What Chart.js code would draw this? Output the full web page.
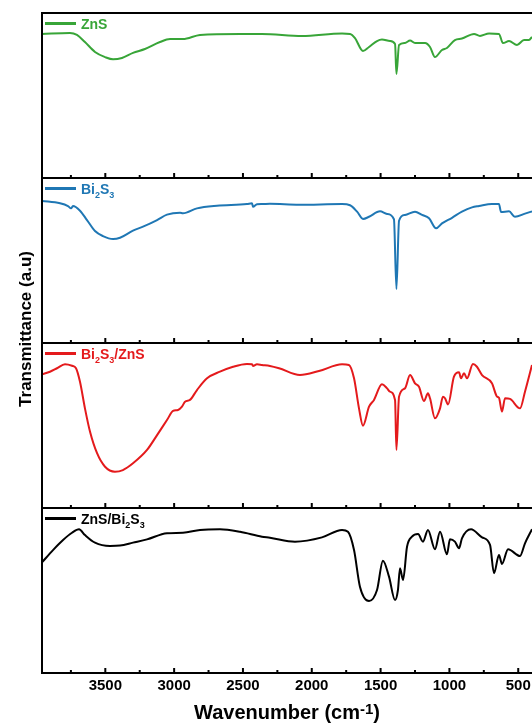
<!DOCTYPE html>
<html lang="en">
<head>
<meta charset="UTF-8">
<title>FTIR spectra</title>
<script src="https://cdn.jsdelivr.net/npm/chart.js"></script>
<style>
  html, body { margin: 0; padding: 0; background: #fff; }
  #wrap { width: 532px; height: 724px; }
</style>
</head>
<body>
<div id="wrap"><canvas id="ftir" width="532" height="724"></canvas></div>
<script>
// wavenumber (cm-1) and transmittance (a.u., 0-100 inside each panel)
const wnZnS = [3960, 3757, 3706, 3648, 3575, 3502, 3444, 3379, 3299, 3212, 3103, 3030, 2936, 2812, 2521, 2362,
  2071, 1780, 1722, 1686, 1628, 1584, 1526, 1490, 1432, 1395, 1385, 1366, 1323, 1286, 1250, 1177, 1141, 1105,
  1054, 1018, 960, 909, 821, 778, 712, 640, 611, 567, 509, 458, 422, 400];
const tZnS = [87.3, 87.9, 86.7, 82.4, 76.4, 73.3, 71.9, 72.7, 75.8, 78.2, 82.4, 84.2, 84.2, 86.7, 87.3, 87.3,
  86.1, 87.6, 87.3, 84.8, 77.0, 79.4, 83.0, 83.9, 83.0, 81.2, 63.0, 80.6, 81.8, 83.3, 81.8, 81.8, 79.4, 73.3,
  77.6, 78.8, 83.6, 84.5, 87.3, 86.1, 87.6, 87.3, 81.8, 83.0, 80.6, 83.6, 83.6, 85.5];

const wnBi2S3 = [3960, 3829, 3771, 3749, 3735, 3684, 3633, 3575, 3517, 3444, 3393, 3299, 3226, 3124, 3052, 2957,
  2936, 2834, 2689, 2471, 2434, 2427, 2398, 2362, 2304, 2093, 1780, 1722, 1671, 1628, 1584, 1504, 1453, 1403,
  1385, 1366, 1323, 1250, 1199, 1148, 1097, 1054, 981, 909, 836, 785, 691, 640, 625, 567, 524, 451, 400];
const tBi2S3 = [86.1, 84.7, 83.0, 81.6, 83.0, 80.2, 74.5, 67.9, 64.8, 63.0, 63.8, 68.1, 70.5, 74.5, 77.8, 79.0,
  78.6, 81.6, 83.2, 84.2, 84.7, 82.6, 84.1, 84.2, 84.4, 83.8, 84.2, 83.5, 79.6, 75.2, 76.5, 79.8, 78.2, 75.0,
  32.7, 74.1, 77.6, 79.6, 77.6, 75.6, 69.5, 72.5, 75.9, 79.6, 82.2, 83.0, 84.2, 84.2, 79.4, 79.8, 76.5, 78.4, 79.8];

const wnBi2S3ZnS = [3960, 3902, 3851, 3793, 3742, 3713, 3684, 3648, 3611, 3560, 3502, 3430, 3372, 3299, 3197, 3124,
  3052, 3008, 2972, 2943, 2921, 2885, 2834, 2761, 2667, 2572, 2471, 2434, 2427, 2398, 2362, 2304, 2238, 2086,
  1948, 1780, 1730, 1693, 1657, 1628, 1584, 1548, 1490, 1453, 1432, 1395, 1385, 1366, 1323, 1286, 1250, 1221,
  1185, 1156, 1141, 1105, 1068, 1047, 1032, 1010, 967, 930, 916, 894, 872, 829, 800, 763, 691, 654, 640, 618,
  596, 560, 487, 451, 400];
const tBi2S3ZnS = [81.0, 82.6, 84.7, 87.1, 86.2, 84.7, 76.5, 60.4, 46.2, 33.2, 25.0, 22.0, 23.0, 27.1, 35.2, 44.2,
  53.3, 58.8, 59.4, 61.4, 64.4, 65.5, 71.5, 78.6, 82.6, 85.6, 87.3, 87.1, 86.1, 87.1, 86.7, 86.1, 84.7, 80.6,
  83.0, 87.1, 86.7, 78.6, 60.4, 49.9, 61.4, 65.5, 75.0, 72.5, 70.5, 65.5, 35.2, 67.5, 72.5, 80.6, 75.6, 73.5,
  64.8, 69.5, 66.5, 54.4, 60.4, 67.5, 66.5, 62.8, 79.6, 82.2, 78.6, 81.6, 78.6, 87.3, 85.6, 80.6, 75.6, 67.5,
  66.8, 58.4, 66.5, 66.1, 60.4, 70.5, 86.7];

const wnZnSBi2S3 = [3960, 3880, 3807, 3742, 3691, 3648, 3575, 3466, 3393, 3299, 3197, 3052, 2936, 2812, 2667, 2521,
  2362, 2304, 2122, 1926, 1780, 1737, 1693, 1650, 1584, 1526, 1483, 1439, 1395, 1374, 1359, 1337, 1308, 1272,
  1228, 1192, 1156, 1105, 1068, 1018, 996, 960, 930, 909, 843, 763, 705, 676, 640, 618, 574, 487, 451, 400];
const tZnSBi2S3 = [67.0, 74.5, 80.6, 85.0, 87.1, 83.6, 79.0, 77.0, 77.2, 79.0, 81.0, 84.7, 85.0, 86.7, 87.1, 85.6,
  82.6, 82.0, 79.6, 82.2, 86.7, 85.6, 74.5, 52.3, 43.6, 50.3, 68.1, 58.4, 44.2, 50.3, 63.5, 56.4, 76.5, 82.6,
  84.2, 79.6, 86.7, 75.0, 85.6, 71.9, 81.0, 79.6, 75.6, 81.6, 87.1, 82.2, 77.6, 60.4, 71.5, 66.1, 75.0, 70.9,
  78.6, 87.1];

const seriesNames = ['ZnS', 'Bi2S3', 'Bi2S3/ZnS', 'ZnS/Bi2S3'];
const seriesColors = ['#38a538', '#1f77b4', '#e41a1c', '#000000'];
const xTicks = [3500, 3000, 2500, 2000, 1500, 1000, 500];
const xMinorTicks = [3750, 3250, 2750, 2250, 1750, 1250, 750];
const xTitle = 'Wavenumber (cm';
const xTitleSup = '-1';
const yTitle = 'Transmittance (a.u)';

const FONT = 'Arial, "Liberation Sans", sans-serif';
const panelIds = ['yZnS', 'yBi', 'yBiZnS', 'yZnSBi'];
const wn = [wnZnS, wnBi2S3, wnBi2S3ZnS, wnZnSBi2S3];
const tr = [tZnS, tBi2S3, tBi2S3ZnS, tZnSBi2S3];

// name with digits as subscripts
function drawName(ctx, text, x, y) {
  for (const p of text.match(/\d+|\D+/g)) {
    const sub = /\d/.test(p);
    ctx.font = (sub ? 'bold 9px ' : 'bold 14px ') + FONT;
    ctx.fillText(p, x, sub ? y + 3.5 : y);
    x += ctx.measureText(p).width;
  }
}

const panelFrame = {
  id: 'panelFrame',
  afterDatasetsDraw(chart) {
    const { ctx, chartArea, scales } = chart;
    const xs = scales.x;
    ctx.save();
    ctx.strokeStyle = '#000';
    ctx.lineWidth = 2;
    ctx.lineCap = 'butt';

    // frame: left side and the horizontal lines between panels
    ctx.beginPath();
    ctx.moveTo(chartArea.left, chartArea.top - 1);
    ctx.lineTo(chartArea.left, chartArea.bottom + 1);
    panelIds.forEach(id => {
      const s = scales[id];
      ctx.moveTo(chartArea.left - 1, s.top);
      ctx.lineTo(chartArea.right, s.top);
    });
    ctx.moveTo(chartArea.left - 1, chartArea.bottom);
    ctx.lineTo(chartArea.right, chartArea.bottom);
    ctx.stroke();

    // inward ticks at the bottom of every panel
    ctx.beginPath();
    panelIds.forEach(id => {
      const b = scales[id].bottom;
      xTicks.forEach(v => {
        const px = xs.getPixelForValue(v);
        ctx.moveTo(px, b);
        ctx.lineTo(px, b - 5);
      });
      xMinorTicks.forEach(v => {
        const px = xs.getPixelForValue(v);
        ctx.moveTo(px, b);
        ctx.lineTo(px, b - 3);
      });
    });
    ctx.stroke();

    // legends
    ctx.textBaseline = 'alphabetic';
    ctx.textAlign = 'left';
    panelIds.forEach((id, i) => {
      const top = scales[id].top;
      ctx.strokeStyle = seriesColors[i];
      ctx.lineWidth = 3;
      ctx.beginPath();
      ctx.moveTo(chartArea.left + 3, top + 10.5);
      ctx.lineTo(chartArea.left + 34, top + 10.5);
      ctx.stroke();
      ctx.fillStyle = seriesColors[i];
      drawName(ctx, seriesNames[i], chartArea.left + 39, top + 16);
    });

    // axis titles
    ctx.fillStyle = '#000';
    ctx.font = 'bold 20px ' + FONT;
    const w1 = ctx.measureText(xTitle).width;
    ctx.font = 'bold 15px ' + FONT;
    const w2 = ctx.measureText(xTitleSup).width;
    ctx.font = 'bold 20px ' + FONT;
    const w3 = ctx.measureText(')').width;
    let tx = (chartArea.left + chartArea.right) / 2 - (w1 + w2 + w3) / 2;
    const ty = chart.height - 5;
    ctx.fillText(xTitle, tx, ty);
    tx += w1;
    ctx.font = 'bold 15px ' + FONT;
    ctx.fillText(xTitleSup, tx, ty - 5);
    tx += w2;
    ctx.font = 'bold 20px ' + FONT;
    ctx.fillText(')', tx, ty);

    ctx.translate(31, (chartArea.top + chartArea.bottom) / 2 - 14);
    ctx.rotate(-Math.PI / 2);
    ctx.textAlign = 'center';
    ctx.font = 'bold 17px ' + FONT;
    ctx.fillText(yTitle, 0, 0);
    ctx.restore();
  }
};

const scales = {
  x: {
    type: 'linear',
    reverse: true,
    min: 400,
    max: 3960,
    grid: { display: false, drawTicks: false },
    border: { display: false },
    ticks: {
      color: '#000',
      padding: 4,
      maxRotation: 0,
      font: { family: FONT, size: 15, weight: 'bold' },
      callback: v => String(v)
    },
    afterBuildTicks: s => { s.ticks = xTicks.map(v => ({ value: v })); },
    afterFit: s => { s.paddingLeft = 0; s.paddingRight = 0; }
  }
};
// stacked panels; the last one defined ends up on top
for (let i = panelIds.length - 1; i >= 0; i--) {
  scales[panelIds[i]] = {
    type: 'linear',
    position: 'left',
    stack: 'panels',
    stackWeight: 1,
    min: 0,
    max: 100,
    grid: { display: false, drawTicks: false },
    border: { display: false },
    ticks: { display: false }
  };
}

new Chart(document.getElementById('ftir'), {
  type: 'line',
  data: {
    datasets: seriesNames.map((name, i) => ({
      label: name,
      yAxisID: panelIds[i],
      data: wn[i].map((w, j) => ({ x: w, y: tr[i][j] })),
      borderColor: seriesColors[i],
      borderWidth: 2,
      pointRadius: 0,
      cubicInterpolationMode: 'monotone',
      fill: false
    }))
  },
  options: {
    responsive: false,
    animation: false,
    layout: { padding: { left: 42, top: 13, right: 0, bottom: 25 } },
    plugins: { legend: { display: false }, tooltip: { enabled: false } },
    scales: scales
  },
  plugins: [panelFrame]
});
</script>
</body>
</html>
